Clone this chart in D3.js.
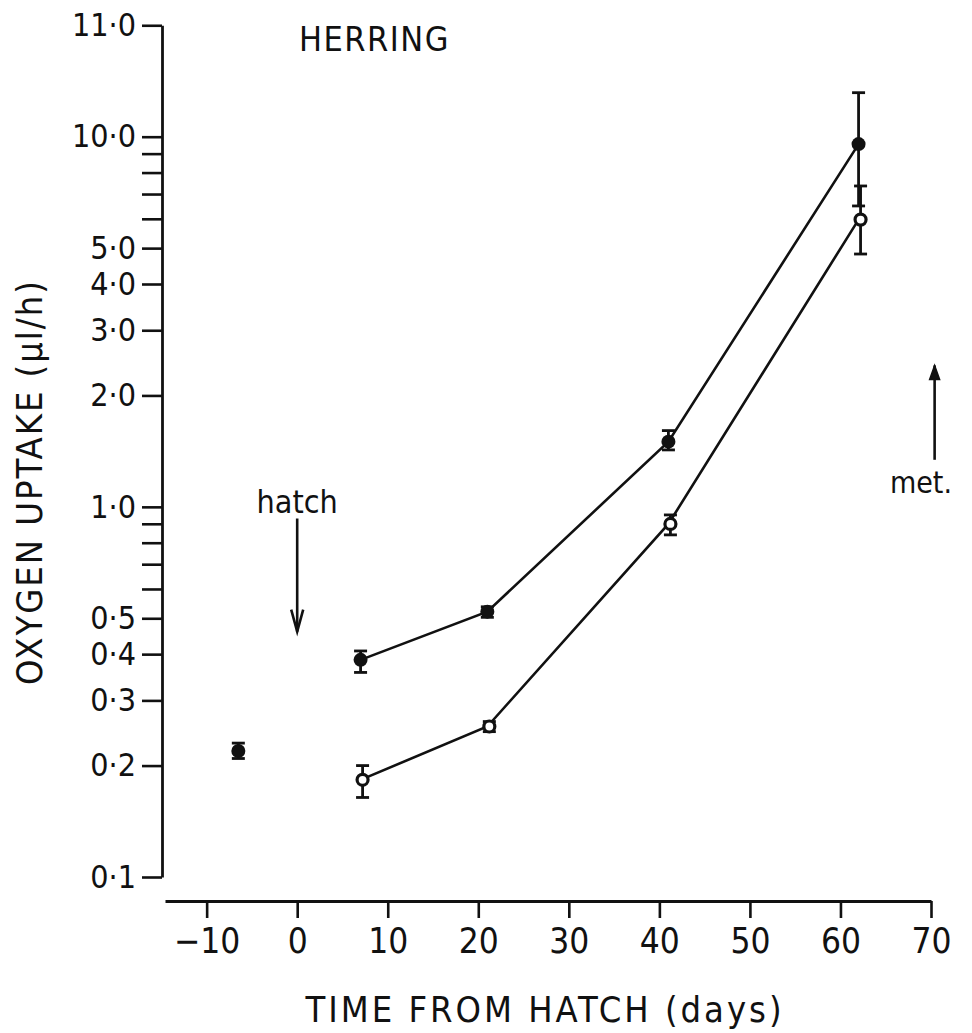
<!DOCTYPE html>
<html>
<head>
<meta charset="utf-8">
<script src="https://cdn.jsdelivr.net/npm/d3@7"></script>
<style>
  body { margin: 0; background: #fff; }
  text { font-family: "Liberation Sans Narrow", "DejaVu Sans Condensed", "Liberation Sans", sans-serif; fill: #111; }
</style>
</head>
<body>
<script>
// Data (days from hatch, oxygen uptake in ul/h)
var days = [7, 21, 41, 62];
var filledMean = [0.386, 0.521, 1.50, 9.55];
var filledLow  = [0.357, 0.503, 1.425, 6.5];
var filledHigh = [0.408, 0.537, 1.607, 13.15];
var openMean = [0.183, 0.255, 0.899, 5.97];
var openLow  = [0.164, 0.247, 0.84, 4.82];
var openHigh = [0.200, 0.263, 0.951, 7.36];
// egg stage point before hatch
var eggDay = [-6.5];
var eggMean = [0.219];
var eggLow = [0.209];
var eggHigh = [0.230];

var xTicks = [-10, 0, 10, 20, 30, 40, 50, 60, 70];
var yTicks = [20, 10, 5, 4, 3, 2, 1, 0.5, 0.4, 0.3, 0.2, 0.1];
var yTickLabels = ["11·0", "10·0", "5·0", "4·0", "3·0", "2·0", "1·0", "0·5", "0·4", "0·3", "0·2", "0·1"];
var yMinor = [9, 8, 7, 6, 0.9, 0.8, 0.7, 0.6];

var width = 972, height = 1033;

var svg = d3.select("body").append("svg")
    .attr("width", width)
    .attr("height", height)
    .style("background", "#fff");

// scales
var x = d3.scaleLinear().domain([-14.6, 70]).range([165, 931]);
var y = d3.scaleLog().domain([0.1, 10]).range([877, 136.7]);

// y axis (log), runs up to the top tick at 20
var yAxisScale = y.copy().domain([0.1, 20]).range([877, y(20)]);
var yAxis = d3.axisLeft(yAxisScale)
    .tickValues(yTicks.concat(yMinor))
    .tickSize(20)
    .tickSizeOuter(0)
    .tickPadding(6)
    .tickFormat(function(d) {
      var i = yTicks.indexOf(d);
      return i < 0 ? "" : yTickLabels[i];
    });

var gy = svg.append("g")
    .attr("transform", "translate(162,0)")
    .call(yAxis);

// x axis
var xAxis = d3.axisBottom(x)
    .tickValues(xTicks)
    .tickSize(17)
    .tickSizeOuter(0)
    .tickPadding(10)
    .tickFormat(d3.format("d"));

var gx = svg.append("g")
    .attr("transform", "translate(0,901)")
    .call(xAxis);

[gx, gy].forEach(function(g) {
  g.select(".domain").attr("stroke", "#111").attr("stroke-width", 2.8);
  g.selectAll(".tick line").attr("stroke", "#111").attr("stroke-width", 2.6);
  g.selectAll(".tick text").attr("fill", "#111");
});
gx.selectAll(".tick text").style("font-size", "35px");
gy.selectAll(".tick text").style("font-size", "32px");

// axis titles
svg.append("text")
    .attr("x", 545).attr("y", 1022)
    .attr("text-anchor", "middle")
    .style("font-size", "36px")
    .style("letter-spacing", "3px")
    .text("TIME FROM HATCH (days)");

svg.append("text")
    .attr("transform", "translate(42,482) rotate(-90)")
    .attr("text-anchor", "middle")
    .style("font-size", "36px")
    .style("letter-spacing", "2px")
    .text("OXYGEN UPTAKE (µl/h)");

svg.append("text")
    .attr("x", 299).attr("y", 51)
    .style("font-size", "34px")
    .style("letter-spacing", "1.5px")
    .text("HERRING");

// lines
var line = d3.line()
    .x(function(d) { return x(d[0]); })
    .y(function(d) { return y(d[1]); });

svg.append("path")
    .datum(d3.zip(days, filledMean))
    .attr("d", line)
    .attr("fill", "none").attr("stroke", "#111").attr("stroke-width", 2.6);

svg.append("path")
    .datum(d3.zip(days, openMean))
    .attr("d", line)
    .attr("fill", "none").attr("stroke", "#111").attr("stroke-width", 2.6);

// error bars
function errorBars(xs, lo, hi, dx) {
  var g = svg.append("g").attr("stroke", "#111").attr("stroke-width", 2.8);
  xs.forEach(function(d, i) {
    var cx = x(d) + (dx || 0);
    g.append("line").attr("x1", cx).attr("x2", cx).attr("y1", y(lo[i])).attr("y2", y(hi[i]));
    g.append("line").attr("x1", cx - 6.5).attr("x2", cx + 6.5).attr("y1", y(lo[i])).attr("y2", y(lo[i]));
    g.append("line").attr("x1", cx - 6.5).attr("x2", cx + 6.5).attr("y1", y(hi[i])).attr("y2", y(hi[i]));
  });
}

errorBars(days, filledLow, filledHigh, 0);
errorBars(days, openLow, openHigh, 2);
errorBars(eggDay, eggLow, eggHigh, 0);

// markers
svg.selectAll("circle.filled")
    .data(d3.zip(days, filledMean).concat(d3.zip(eggDay, eggMean)))
    .enter().append("circle")
    .attr("class", "filled")
    .attr("cx", function(d) { return x(d[0]); })
    .attr("cy", function(d) { return y(d[1]); })
    .attr("r", 7)
    .attr("fill", "#111");

svg.selectAll("circle.open")
    .data(d3.zip(days, openMean))
    .enter().append("circle")
    .attr("class", "open")
    .attr("cx", function(d) { return x(d[0]) + 2; })
    .attr("cy", function(d) { return y(d[1]); })
    .attr("r", 5.5)
    .attr("fill", "#fff")
    .attr("stroke", "#111")
    .attr("stroke-width", 3.2);

// hatch arrow
var hx = x(0);
svg.append("line")
    .attr("x1", hx).attr("x2", hx)
    .attr("y1", y(0.93)).attr("y2", y(0.46))
    .attr("stroke", "#111").attr("stroke-width", 2.6);
svg.append("path")
    .attr("d", "M" + (hx - 6) + "," + (y(0.46) - 22) + "L" + hx + "," + y(0.46) + "L" + (hx + 6) + "," + (y(0.46) - 22))
    .attr("fill", "none").attr("stroke", "#111").attr("stroke-width", 2.6);
svg.append("text")
    .attr("x", hx).attr("y", 513)
    .attr("text-anchor", "middle")
    .style("font-size", "32px")
    .text("hatch");

// metamorphosis arrow
var mx = x(70.4);
svg.append("line")
    .attr("x1", mx).attr("x2", mx)
    .attr("y1", y(1.34)).attr("y2", y(2.41))
    .attr("stroke", "#111").attr("stroke-width", 2.6);
svg.append("path")
    .attr("d", "M" + (mx - 5) + "," + (y(2.41) + 14) + "L" + mx + "," + y(2.41) + "L" + (mx + 5) + "," + (y(2.41) + 14) + "Z")
    .attr("fill", "#111").attr("stroke", "#111").attr("stroke-width", 1.5);
svg.append("text")
    .attr("x", 921).attr("y", 493)
    .attr("text-anchor", "middle")
    .style("font-size", "30px")
    .text("met.");
</script>
</body>
</html>
